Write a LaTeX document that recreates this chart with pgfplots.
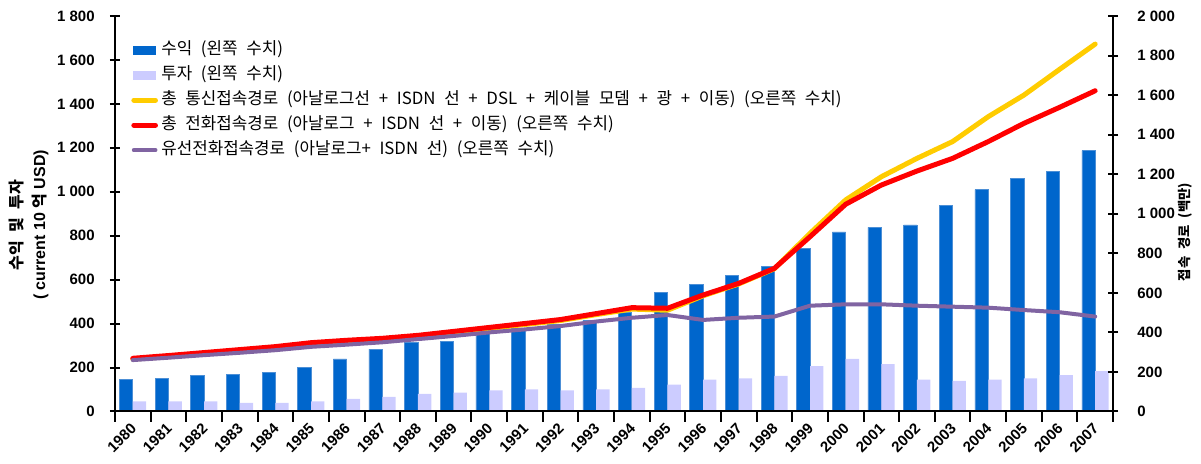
\documentclass[border=0pt]{standalone}
\usepackage{fontspec}
\setmainfont{Liberation Sans}
\newfontfamily\kr[WordSpace=2.3]{Noto Sans CJK KR}
\usepackage{pgfplots}
\usepackage{pgfplotstable}
\pgfplotsset{compat=1.18}
\definecolor{revblue}{HTML}{0066CC}
\definecolor{revedge}{HTML}{4C8FD6}
\definecolor{invlav}{HTML}{CCCCFF}
\definecolor{totyel}{HTML}{FFCC00}
\definecolor{telred}{HTML}{FF0000}
\definecolor{wirepur}{HTML}{8064A2}

\pgfplotstableread{
idx year rev inv tot tel wire
0 1980 147 46 265 269 260
1 1981 152 46 278 283 272
2 1982 163 46 293 298 285
3 1983 168 39 308 313 297
4 1984 178 39 323 328 310
5 1985 201 46 343 348 327
6 1986 239 57 355 360 338
7 1987 284 67 365 370 350
8 1988 313 80 380 385 366
9 1989 318 86 400 405 382
10 1990 356 96 420 425 400
11 1991 378 101 440 445 415
12 1992 395 96 460 465 432
13 1993 415 101 490 495 455
14 1994 450 107 518 525 474
15 1995 542 122 512 522 488
16 1996 579 145 585 589 463
17 1997 621 151 645 648 474
18 1998 661 162 722 724 480
19 1999 744 206 901 884 535
20 2000 817 239 1070 1048 542
21 2001 838 216 1187 1145 542
22 2002 849 145 1280 1216 535
23 2003 938 139 1365 1280 530
24 2004 1010 145 1491 1365 525
25 2005 1060 151 1600 1457 513
26 2006 1093 166 1730 1538 502
27 2007 1187 184 1858 1622 480
}\data

\begin{document}
\begin{tikzpicture}
\useasboundingbox (-69pt,-31.5pt) rectangle (651.6pt,246.9pt);
\begin{axis}[
  at={(0,0)}, anchor=south west,
  scale only axis, width=598.8pt, height=237.3pt,
  xmin=-0.5, xmax=27.5, ymin=0, ymax=1800,
  axis x line*=bottom, axis y line*=left,
  axis on top,
  axis line style={line width=1.2pt, black},
  tick style={line width=1.2pt, black},
  tick align=center, major tick length=6pt, minor tick length=6pt,
  xtick={0,...,27},
  xticklabels={1980,1981,1982,1983,1984,1985,1986,1987,1988,1989,1990,1991,1992,1993,1994,1995,1996,1997,1998,1999,2000,2001,2002,2003,2004,2005,2006,2007},
  major x tick style={draw=none},
  minor xtick={-0.5,0.5,...,27.5},
  xticklabel style={rotate=45, anchor=north east, inner sep=0pt, yshift=1pt, xshift=-1.6pt, font=\bfseries\fontsize{9}{10}\selectfont},
  ytick={0,200,...,1800},
  yticklabels={0,200,400,600,800,1 000,1 200,1 400,1 600,1 800},
  yticklabel style={anchor=east, inner sep=0pt, xshift=-9pt, font=\bfseries\fontsize{9}{10}\selectfont},
  ybar, bar width=8pt,
]
\addplot[ybar, bar shift=-4pt, fill=revblue, draw=revedge, line width=0.4pt] table[x=idx,y=rev]{\data};
\addplot[ybar, bar shift=4pt, fill=invlav, draw=none] table[x=idx,y=inv]{\data};
\end{axis}
\begin{axis}[
  at={(0,0)}, anchor=south west,
  scale only axis, width=598.8pt, height=237.3pt,
  xmin=-0.5, xmax=27.5, ymin=0, ymax=2000,
  axis x line=none, axis y line*=right, xtick=\empty,
  axis line style={line width=1.2pt, black},
  tick style={line width=1.2pt, black},
  tick align=center, major tick length=6pt,
  ytick={0,200,...,2000},
  yticklabels={0,200,400,600,800,1 000,1 200,1 400,1 600,1 800,2 000},
  yticklabel style={anchor=west, inner sep=0pt, xshift=11.4pt, font=\bfseries\fontsize{9}{10}\selectfont},
  legend image code/.code={\draw[#1, line cap=round] (0pt,0pt) -- (13pt,0pt);},
  legend cell align=left,
  legend style={at={(0.016,0.946)}, anchor=north west, draw=none, fill=none,
    inner sep=0pt, row sep=0pt,
    font=\kr\fontsize{10.1}{11}\selectfont,
    nodes={inner xsep=2pt, inner ysep=0pt, text height=10pt, text depth=5pt}},
]
\addlegendimage{legend image code/.code={\fill[revblue] (0pt,-2.4pt) rectangle (13pt,2.4pt);}}
\addlegendentry{수익 (왼쪽 수치)}
\addlegendimage{legend image code/.code={\fill[invlav] (0pt,-2.4pt) rectangle (13pt,2.4pt);}}
\addlegendentry{투자 (왼쪽 수치)}
\addplot[totyel, line width=3pt, line cap=round, line join=round, mark=none] table[x=idx,y=tot]{\data};
\addlegendentry{총 통신접속경로 (아날로그선 + ISDN 선 + DSL + 케이블 모뎀 + 광 + 이동) (오른쪽 수치)}
\addplot[telred, line width=3pt, line cap=round, line join=round, mark=none] table[x=idx,y=tel]{\data};
\addlegendentry{총 전화접속경로 (아날로그 + ISDN 선 + 이동) (오른쪽 수치)}
\addplot[wirepur, line width=2.4pt, line cap=round, line join=round, mark=none] table[x=idx,y=wire]{\data};
\addlegendentry{유선전화접속경로 (아날로그+ ISDN 선) (오른쪽 수치)}
\end{axis}
\node[rotate=90, font=\kr\bfseries\fontsize{9.6}{11}\selectfont] at (-58.8pt,111.9pt) {수익 및 투자};
\node[rotate=90, font=\bfseries\fontsize{9.6}{11}\selectfont] at (-45pt,111.9pt) {( current 10 {\kr 억} USD)};
\node[rotate=90, font=\kr\bfseries\fontsize{8}{9}\selectfont] at (642pt,107.7pt) {접속 경로 (백만)};
\end{tikzpicture}
\end{document}
